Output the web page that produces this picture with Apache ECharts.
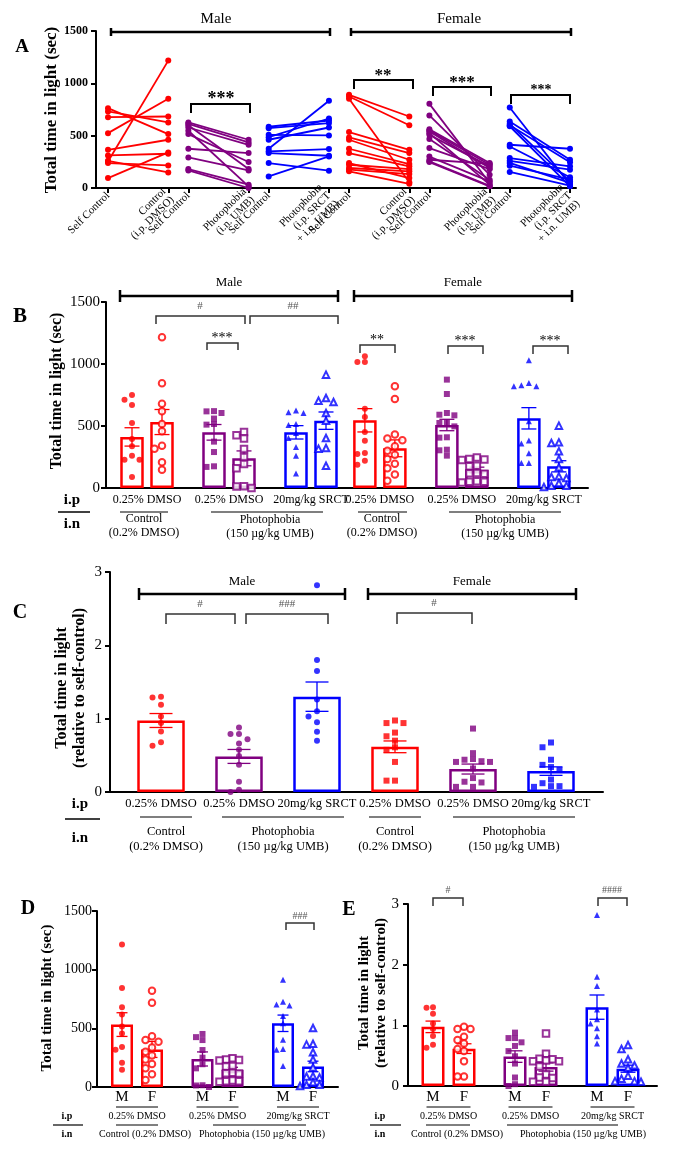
<!DOCTYPE html>
<html><head><meta charset="utf-8">
<script src="https://cdn.jsdelivr.net/npm/echarts@6/dist/echarts.min.js"></script>
<style>html,body{margin:0;padding:0;background:#fff}#c{width:685px;height:1170px}</style>
</head><body><div id="c"></div>
<script>
// ---------------- DATA ----------------
// Panel A: paired self-control (pre) vs. treatment (post), sec
const aTickLabels = ['Self Control','Control\n(i.p. DMSO)','Self Control','Photophobia\n(i.n. UMB)','Self Control','Photophobia\n(i.p. SRCT\n+ i.n. UMB)',
                     'Self Control','Control\n(i.p. DMSO)','Self Control','Photophobia\n(i.n. UMB)','Self Control','Photophobia\n(i.p. SRCT\n+ i.n. UMB)'];
const aMaleCtrlPre   = [763, 731, 677, 524, 365, 311, 260, 254, 238, 95];
const aMaleCtrlPost  = [515, 626, 683, 852, 461, 327, 149, 1217, 216, 340];
const aMalePhotoPre  = [626, 613, 600, 578, 547, 515, 375, 292, 181, 168];
const aMalePhotoPost = [461, 435, 181, 413, 16, 248, 334, 168, 32, 0];
const aMaleSrctPre   = [585, 572, 508, 486, 461, 375, 350, 334, 238, 111];
const aMaleSrctPost  = [645, 620, 502, 664, 578, 833, 372, 308, 165, 302];
const aFemCtrlPre    = [890, 874, 852, 534, 483, 461, 375, 334, 238, 222, 191, 175, 159];
const aFemCtrlPost   = [683, 600, 54, 365, 334, 270, 229, 207, 95, 181, 159, 133, 40];
const aFemPhotoPre   = [804, 693, 562, 550, 540, 524, 508, 467, 381, 300, 270, 255, 248];
const aFemPhotoPost  = [48, 127, 238, 222, 191, 32, 207, 79, 180, 64, 230, 20, 16];
const aFemSrctPre    = [769, 636, 613, 600, 590, 413, 397, 286, 260, 240, 213, 153];
const aFemSrctPost   = [32, 270, 64, 245, 16, 375, 102, 207, 175, 48, 79, 22];

// Panel B: total time in light (sec); groups: M-ctrl, M-photo, M-SRCT, F-ctrl, F-photo, F-SRCT
const bMaleCtrlPre   = [750, 712, 669, 524, 395, 336, 261, 228, 228, 89];
const bMaleCtrlPost  = [1215, 844, 680, 618, 516, 457, 341, 317, 207, 148];
const bMalePhotoPre  = [620, 618, 605, 560, 516, 511, 374, 290, 175, 170];
const bMalePhotoPost = [452, 425, 400, 315, 250, 194, 159, 15, 13, 0];
const bMaleSrctPre   = [626, 610, 605, 516, 508, 444, 403, 330, 261, 116];
const bMaleSrctPost  = [914, 726, 704, 694, 605, 543, 403, 323, 317, 180];
const bFemCtrlPre    = [1062, 1016, 1016, 640, 573, 452, 382, 282, 274, 220, 188];
const bFemCtrlPost   = [820, 718, 432, 400, 385, 336, 300, 269, 234, 196, 159, 108, 59];
const bFemPhotoPre   = [874, 758, 605, 591, 586, 530, 524, 497, 409, 406, 309, 304, 261];
const bFemPhotoPost  = [245, 234, 230, 225, 180, 175, 121, 118, 115, 55, 50, 50, 45];
const bFemSrctPre    = [1030, 847, 828, 820, 820, 538, 384, 358, 280, 202, 202];
const bFemSrctPost   = [503, 368, 363, 296, 234, 167, 94, 89, 81, 40, 19, 19, 8];
const bPreMean  = [412, 449, 449, 546, 508, 562];
const bPreSem   = [74, 63, 54, 94, 46, 86];
const bPostMean = [532, 239, 543, 320, 145, 175];
const bPostSem  = [101, 60, 70, 68, 23, 45];

// Panel C: relative to self-control
const cMaleCtrl  = [1.30, 1.29, 1.19, 1.03, 0.94, 0.825, 0.68, 0.63];
const cMalePhoto = [0.88, 0.79, 0.79, 0.72, 0.66, 0.575, 0.49, 0.37, 0.14, 0.03, 0.0];
const cMaleSrct  = [2.82, 1.80, 1.65, 1.26, 1.10, 1.03, 0.95, 0.82, 0.70];
const cFemCtrl   = [0.975, 0.94, 0.94, 0.81, 0.76, 0.70, 0.61, 0.575, 0.41, 0.155, 0.155];
const cFemPhoto  = [0.865, 0.53, 0.45, 0.44, 0.42, 0.41, 0.41, 0.32, 0.19, 0.14, 0.13, 0.07, 0.07];
const cFemSrct   = [0.675, 0.61, 0.44, 0.37, 0.34, 0.30, 0.17, 0.12, 0.08, 0.08, 0.07];
const cMean = [0.975, 0.485, 1.30, 0.616, 0.313, 0.285];
const cSem  = [0.095, 0.095, 0.20, 0.08, 0.068, 0.058];

// Axis / group labels
const ipLabels = ['0.25% DMSO', '0.25% DMSO', '20mg/kg SRCT'];
const sexLabels = ['M', 'F'];

// ---------------- LAYOUT / STYLE ----------------
const SERIF = '"Liberation Serif", "Times New Roman", serif';
const COLORS = ['#ff0000', '#800080', '#0000ff'];
const SHAPES = ['circle', 'rect', 'triangle'];
const EMPTY = ['emptyCircle', 'emptyRect', 'emptyTriangle'];
const GEO = {
  A: {left: 96,  right: 576, top: 31,  bottom: 188,  c0: 108,   unit: 20.087},
  B: {left: 106, right: 588, top: 302, bottom: 488,  c0: 147,   unit: 82},
  C: {left: 110, right: 603, top: 572, bottom: 792,  c0: 161,   unit: 78},
  D: {left: 97,  right: 338, top: 911, bottom: 1087, c0: 137,   unit: 80.5},
  E: {left: 408, right: 657, top: 904, bottom: 1086, c0: 448.5, unit: 82}
};
const A_SLOTS = [0, 3, 4, 7, 8, 11, 12, 15, 16, 19, 20, 23];
const B_POS = [0, 1, 2, 2.84, 3.84, 4.84];
const PX = (G, u) => G.c0 + u * G.unit;

const grids = [], xAxes = [], yAxes = [], series = [], graphics = [];

function addGrid(G, y, xExtra) {
  const gi = grids.length;
  grids.push({left: G.left, top: G.top, width: G.right - G.left, height: G.bottom - G.top, containLabel: false, outerBoundsMode: 'none'});
  xAxes.push(Object.assign({
    type: 'value', gridIndex: gi, min: (G.left - G.c0) / G.unit, max: (G.right - G.c0) / G.unit,
    axisLine: {show: true, onZero: false, lineStyle: {color: '#000', width: 2}},
    axisTick: {show: false}, axisLabel: {show: false}, splitLine: {show: false}
  }, xExtra || {}));
  yAxes.push({
    type: 'value', gridIndex: gi, min: 0, max: y.max, interval: y.interval,
    axisLine: {show: true, onZero: false, lineStyle: {color: '#000', width: 2}},
    axisTick: {show: true, length: y.tick, lineStyle: {color: '#000', width: 2}},
    axisLabel: {color: '#000', fontFamily: SERIF, fontSize: y.fs, fontWeight: y.bold ? 'bold' : 'normal', margin: y.margin,
      formatter: v => String(v)},
    splitLine: {show: false}
  });
  return gi;
}

// simple beeswarm: spreads points horizontally (max +-2 columns) so that they overlap little
function swarm(values, center, unitPx, pxPerVal, size, step) {
  const order = values.map((v, i) => i).sort((a, b) => values[b] - values[a]);
  const placed = [], out = [];
  const cands = [0, -1, 1, -2, 2].map(k => k * step);
  for (const i of order) {
    const y = values[i] * pxPerVal;
    let best = 0, bestD = -1;
    for (const o of cands) {
      const d = placed.length ? Math.min(...placed.map(p => Math.hypot(p[0] - o, p[1] - y))) : 1e9;
      if (d >= size * 0.9) { best = o; bestD = d; break; }
      if (d > bestD) { bestD = d; best = o; }
    }
    placed.push([best, y]);
    out[i] = [center + best / unitPx, values[i]];
  }
  return out;
}

function errRender(capHalf) {
  return function (params, api) {
    const x = api.value(0), m = api.value(1), s = api.value(2), c = COLORS[api.value(3)];
    const t = api.coord([x, m + s]), b = api.coord([x, Math.max(0, m - s)]);
    const st = {stroke: c, lineWidth: 1.3};
    return {type: 'group', children: [
      {type: 'line', shape: {x1: t[0], y1: t[1], x2: b[0], y2: b[1]}, style: st},
      {type: 'line', shape: {x1: t[0] - capHalf, y1: t[1], x2: t[0] + capHalf, y2: t[1]}, style: st},
      {type: 'line', shape: {x1: b[0] - capHalf, y1: b[1], x2: b[0] + capHalf, y2: b[1]}, style: st}
    ]};
  };
}

function barPanel(G, y, groups, barW, capHalf, step) {
  const gi = addGrid(G, y);
  series.push({type: 'bar', xAxisIndex: gi, yAxisIndex: gi, barWidth: barW, z: 2, silent: true, animation: false,
    data: groups.map(g => ({value: [g.pos, g.mean], itemStyle: {color: 'rgba(255,255,255,0)', borderColor: COLORS[g.ci], borderWidth: 2.5}}))});
  series.push({type: 'custom', xAxisIndex: gi, yAxisIndex: gi, z: 3, silent: true, animation: false,
    encode: {x: 0, y: 1}, renderItem: errRender(capHalf),
    data: groups.map(g => [g.pos, g.mean, g.sem, g.ci])});
  const pxPerVal = (G.bottom - G.top) / y.max;
  groups.forEach(g => {
    const empty = g.symbol.indexOf('empty') === 0;
    series.push({type: 'scatter', xAxisIndex: gi, yAxisIndex: gi, z: 4, silent: true, animation: false,
      symbol: g.symbol, symbolSize: empty ? 6.5 : 6,
      itemStyle: {color: COLORS[g.ci], borderColor: COLORS[g.ci], borderWidth: empty ? 1.6 : 0},
      data: swarm(g.values, g.pos, G.unit, pxPerVal, empty ? 7 : 6, step)});
  });
}

// ---------------- PANEL A ----------------
(function () {
  const G = GEO.A;
  const gi = addGrid(G, {max: 1500, interval: 500, fs: 12, bold: true, margin: 8, tick: 5}, {
    axisTick: {show: true, customValues: A_SLOTS, length: 5, lineStyle: {color: '#000', width: 2}},
    axisLabel: {show: true, customValues: A_SLOTS, rotate: 45, margin: 6, color: '#000', fontFamily: SERIF, fontSize: 11, lineHeight: 11.5,
      formatter: v => aTickLabels[A_SLOTS.indexOf(Math.round(v))] || ''}
  });
  const pairs = [[aMaleCtrlPre, aMaleCtrlPost], [aMalePhotoPre, aMalePhotoPost], [aMaleSrctPre, aMaleSrctPost],
                 [aFemCtrlPre, aFemCtrlPost], [aFemPhotoPre, aFemPhotoPost], [aFemSrctPre, aFemSrctPost]];
  pairs.forEach((p, g) => {
    const c = COLORS[g % 3];
    p[0].forEach((v, i) => {
      series.push({type: 'line', xAxisIndex: gi, yAxisIndex: gi, silent: true, animation: false, z: 3,
        symbol: 'circle', symbolSize: 6, lineStyle: {color: c, width: 1.8}, itemStyle: {color: c},
        data: [[A_SLOTS[2 * g], v], [A_SLOTS[2 * g + 1], p[1][i]]]});
    });
  });
})();

// ---------------- PANEL B ----------------
(function () {
  const bPre = [bMaleCtrlPre, bMalePhotoPre, bMaleSrctPre, bFemCtrlPre, bFemPhotoPre, bFemSrctPre];
  const bPost = [bMaleCtrlPost, bMalePhotoPost, bMaleSrctPost, bFemCtrlPost, bFemPhotoPost, bFemSrctPost];
  const G = GEO.B, off = 15 / G.unit, groups = [];
  for (let g = 0; g < 6; g++) {
    groups.push({pos: B_POS[g] - off, mean: bPreMean[g], sem: bPreSem[g], ci: g % 3, symbol: SHAPES[g % 3], values: bPre[g]});
    groups.push({pos: B_POS[g] + off, mean: bPostMean[g], sem: bPostSem[g], ci: g % 3, symbol: EMPTY[g % 3], values: bPost[g]});
  }
  barPanel(G, {max: 1500, interval: 500, fs: 15, bold: false, margin: 6, tick: 5}, groups, 23.5, 7.5, 7.5);
})();

// ---------------- PANEL C ----------------
(function () {
  const vals = [cMaleCtrl, cMalePhoto, cMaleSrct, cFemCtrl, cFemPhoto, cFemSrct];
  const groups = vals.map((v, g) => ({pos: g, mean: cMean[g], sem: cSem[g], ci: g % 3, symbol: g < 3 ? 'circle' : 'rect', values: v}));
  barPanel(GEO.C, {max: 3, interval: 1, fs: 15, bold: false, margin: 8, tick: 5}, groups, 47.5, 11.5, 8.5);
})();

// ---------------- PANEL D ----------------
(function () {
  const G = GEO.D, off = 15 / G.unit;
  const mVals = [bMaleCtrlPost, bMalePhotoPost, bMaleSrctPost], fVals = [bFemCtrlPost, bFemPhotoPost, bFemSrctPost];
  const groups = [];
  for (let g = 0; g < 3; g++) {
    groups.push({pos: g - off, mean: bPostMean[g], sem: bPostSem[g], ci: g, symbol: SHAPES[g], values: mVals[g]});
    groups.push({pos: g + off, mean: bPostMean[g + 3], sem: bPostSem[g + 3], ci: g, symbol: EMPTY[g], values: fVals[g]});
  }
  barPanel(G, {max: 1500, interval: 500, fs: 14, bold: false, margin: 5, tick: 5}, groups, 22, 5.5, 6.5);
})();

// ---------------- PANEL E ----------------
(function () {
  const G = GEO.E, off = 15.5 / G.unit;
  const mVals = [cMaleCtrl, cMalePhoto, cMaleSrct], fVals = [cFemCtrl, cFemPhoto, cFemSrct];
  const groups = [];
  for (let g = 0; g < 3; g++) {
    groups.push({pos: g - off, mean: cMean[g], sem: cSem[g], ci: g, symbol: SHAPES[g], values: mVals[g]});
    groups.push({pos: g + off, mean: cMean[g + 3], sem: cSem[g + 3], ci: g, symbol: EMPTY[g], values: fVals[g]});
  }
  barPanel(G, {max: 3, interval: 1, fs: 15, bold: false, margin: 9, tick: 5}, groups, 23, 7.5, 6.5);
})();

// ---------------- ANNOTATIONS ----------------
function T(x, y, text, fs, o) {
  o = o || {};
  graphics.push({type: 'text', x: x, y: y, rotation: o.rot || 0, z: 100, silent: true,
    style: {text: text, fill: o.color || '#000', font: (o.bold ? 'bold ' : '') + fs + 'px ' + SERIF,
      align: o.align || 'center', verticalAlign: 'middle', textAlign: o.align || 'center', textVerticalAlign: 'middle',
      lineHeight: o.lh || Math.round(fs * 1.15)}});
}
function L(x1, y1, x2, y2, w, c) {
  graphics.push({type: 'line', z: 100, silent: true, shape: {x1: x1, y1: y1, x2: x2, y2: y2}, style: {stroke: c || '#000', lineWidth: w || 1.5}});
}
function BR(x1, x2, y, drop, w, c) {
  graphics.push({type: 'polyline', z: 100, silent: true, shape: {points: [[x1, y + drop], [x1, y], [x2, y], [x2, y + drop]]},
    style: {stroke: c || '#333', lineWidth: w || 1.5, fill: null}});
}
function SEX(x1, x2, y, cap, w) { L(x1, y, x2, y, w); L(x1, y - cap, x1, y + cap, w); L(x2, y - cap, x2, y + cap, w); }
const R90 = Math.PI / 2;

// A
T(22, 47, 'A', 19, {bold: true});
T(52, 110, 'Total time in light (sec)', 17, {bold: true, rot: R90});
T(216, 19, 'Male', 15); SEX(111, 330, 32, 4, 2.5);
T(459, 19, 'Female', 15); SEX(351, 571, 32, 4, 2.5);
BR(191, 250, 104, 9, 2, '#000'); T(221, 99, '***', 18, {bold: true});
BR(354, 413, 80, 9, 2, '#000'); T(383, 76, '**', 17, {bold: true});
BR(433, 491, 87, 9, 2, '#000'); T(462, 83, '***', 17, {bold: true});
BR(511, 570, 95, 9, 2, '#000'); T(541, 90, '***', 14, {bold: true});

// B
(function () {
  const G = GEO.B;
  T(20, 317, 'B', 21, {bold: true});
  T(57, 391, 'Total time in light (sec)', 16, {bold: true, rot: R90});
  T(229, 283, 'Male', 13); SEX(120, 338, 296, 6, 2.5);
  T(463, 283, 'Female', 13); SEX(354, 572, 296, 6, 2.5);
  BR(156, 245, 316, 8); T(200, 306, '#', 11, {color: '#555'});
  BR(250, 338, 316, 8); T(293, 306, '##', 11, {color: '#555'});
  BR(207, 238, 343, 7); T(222, 338, '***', 14);
  BR(360, 395, 345, 8); T(377, 340, '**', 14);
  BR(448, 483, 346, 8); T(465, 341, '***', 14);
  BR(533, 568, 346, 8); T(550, 341, '***', 14);
  T(72, 500, 'i.p', 15, {bold: true}); L(58, 512, 90, 512, 1.5); T(72, 524, 'i.n', 15, {bold: true});
  B_POS.forEach((u, g) => T(PX(G, u), 500, ipLabels[g % 3], 12));
  L(120, 512, 168, 512, 1.2); T(144, 526, 'Control\n(0.2% DMSO)', 12, {lh: 14});
  L(211, 512, 323, 512, 1.2); T(270, 527, 'Photophobia\n(150 µg/kg UMB)', 12, {lh: 14});
  L(358, 512, 407, 512, 1.2); T(382, 526, 'Control\n(0.2% DMSO)', 12, {lh: 14});
  L(449, 512, 561, 512, 1.2); T(505, 527, 'Photophobia\n(150 µg/kg UMB)', 12, {lh: 14});
})();

// C
(function () {
  const G = GEO.C;
  T(20, 613, 'C', 20, {bold: true});
  T(71, 688, 'Total time in light\n(relative to self-control)', 16, {bold: true, rot: R90, lh: 18});
  T(242, 582, 'Male', 13); SEX(139, 345, 594, 6, 2.5);
  T(472, 582, 'Female', 13); SEX(368, 576, 594, 6, 2.5);
  BR(166, 235, 614, 10); T(200, 604, '#', 11, {color: '#555'});
  BR(246, 328, 614, 10); T(287, 604, '###', 11, {color: '#555'});
  BR(397, 472, 613, 11); T(434, 603, '#', 11, {color: '#555'});
  T(80, 804, 'i.p', 15, {bold: true}); L(65, 819, 100, 819, 1.5); T(80, 838, 'i.n', 15, {bold: true});
  for (let g = 0; g < 6; g++) T(PX(G, g), 804, ipLabels[g % 3], 12.5);
  L(140, 817, 192, 817, 1.2); T(166, 839, 'Control\n(0.2% DMSO)', 12.5, {lh: 15});
  L(222, 817, 344, 817, 1.2); T(283, 839, 'Photophobia\n(150 µg/kg UMB)', 12.5, {lh: 15});
  L(369, 817, 421, 817, 1.2); T(395, 839, 'Control\n(0.2% DMSO)', 12.5, {lh: 15});
  L(453, 817, 575, 817, 1.2); T(514, 839, 'Photophobia\n(150 µg/kg UMB)', 12.5, {lh: 15});
})();

// D
(function () {
  const G = GEO.D, off = 15 / G.unit;
  T(28, 909, 'D', 20, {bold: true});
  T(47, 998, 'Total time in light (sec)', 15, {bold: true, rot: R90});
  BR(286, 314, 923, 7); T(300, 916, '###', 10, {color: '#555'});
  for (let g = 0; g < 3; g++) {
    T(PX(G, g - off), 1097, sexLabels[0], 15); T(PX(G, g + off), 1097, sexLabels[1], 15);
    L(PX(G, g) - 21, 1107, PX(G, g) + 21, 1107, 1);
    T(PX(G, g), 1116, ipLabels[g], 10);
  }
  T(67, 1116, 'i.p', 10, {bold: true}); L(53, 1125, 83, 1125, 1.2); T(67, 1134, 'i.n', 10, {bold: true});
  L(116, 1125, 158, 1125, 1); L(213, 1125, 306, 1125, 1);
  T(145, 1134, 'Control (0.2% DMSO)', 10); T(262, 1134, 'Photophobia (150 µg/kg UMB)', 10);
})();

// E
(function () {
  const G = GEO.E, off = 15.5 / G.unit;
  T(349, 910, 'E', 20, {bold: true});
  T(373, 993, 'Total time in light\n(relative to self-control)', 15, {bold: true, rot: R90, lh: 17});
  BR(433, 463, 898, 8); T(448, 890, '#', 10, {color: '#555'});
  BR(598, 627, 898, 8); T(612, 890, '####', 10, {color: '#555'});
  for (let g = 0; g < 3; g++) {
    T(PX(G, g - off), 1097, sexLabels[0], 15); T(PX(G, g + off), 1097, sexLabels[1], 15);
    L(PX(G, g) - 22, 1107, PX(G, g) + 22, 1107, 1);
    T(PX(G, g), 1116, ipLabels[g], 10);
  }
  T(380, 1116, 'i.p', 10, {bold: true}); L(370, 1125, 401, 1125, 1.2); T(380, 1134, 'i.n', 10, {bold: true});
  L(426, 1125, 470, 1125, 1); L(507, 1125, 618, 1125, 1);
  T(457, 1134, 'Control (0.2% DMSO)', 10); T(583, 1134, 'Photophobia (150 µg/kg UMB)', 10);
})();

const chart = echarts.init(document.getElementById('c'), null, {renderer: 'canvas', width: 685, height: 1170});
chart.setOption({
  animation: false,
  backgroundColor: '#fff',
  grid: grids, xAxis: xAxes, yAxis: yAxes, series: series,
  graphic: {elements: graphics}
});
</script>
</body></html>
